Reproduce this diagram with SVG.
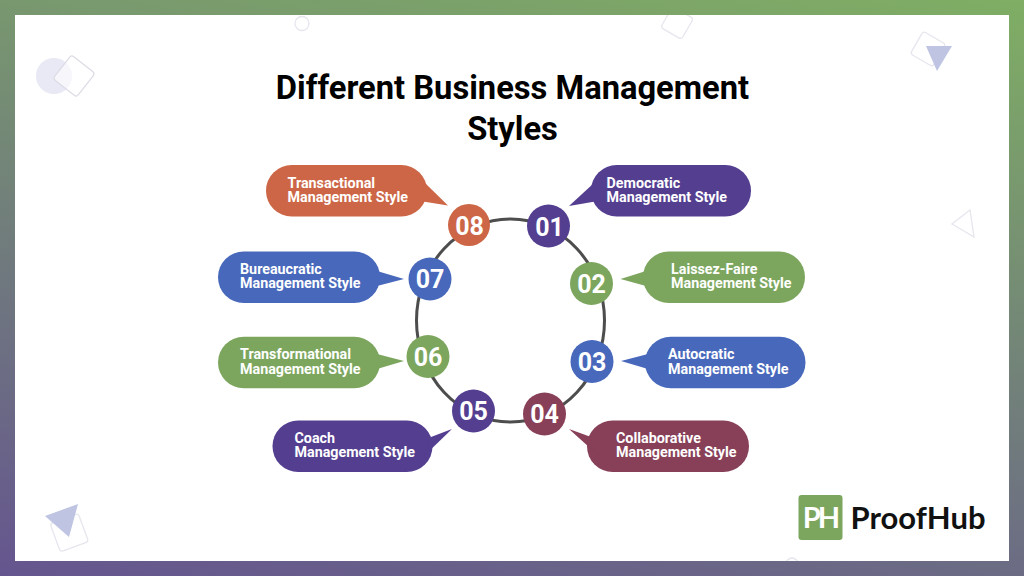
<svg xmlns="http://www.w3.org/2000/svg" width="1024" height="576" viewBox="0 0 1024 576">
<style>
.t{font-family:Roboto,"Liberation Sans",sans-serif;font-weight:700;font-size:14.3px;fill:#fff}
.n{font-family:Roboto,"Liberation Sans",sans-serif;font-weight:700;font-size:25px;fill:#fff;text-anchor:middle}
.h{font-family:Roboto,"Liberation Sans",sans-serif;font-weight:700;font-size:32.700px;fill:#000;text-anchor:middle}
.o{fill:#cc6646}.b{fill:#4868bb}.g{fill:#7ca65e}.p{fill:#533e90}.m{fill:#883f58}
.d{fill:none;stroke:#e6e6ee;stroke-width:1.3}
.s{fill:#bec4e2}
</style>
<defs>
<linearGradient id="bg" gradientUnits="userSpaceOnUse" x1="0" y1="576" x2="139" y2="-166">
<stop offset="0" stop-color="#65558f"/><stop offset="1" stop-color="#7fae64"/>
</linearGradient>
<clipPath id="frame"><rect x="15" y="15" width="994" height="546"/></clipPath>
</defs>
<rect width="1024" height="576" fill="url(#bg)"/>
<rect x="15" y="15" width="994" height="546" fill="#fff"/>
<g id="decor" clip-path="url(#frame)">
<circle cx="302" cy="23.500" r="7" class="d"/>
<circle cx="54" cy="76" r="18" fill="#e8e9f4"/>
<rect x="-15" y="-15" width="30" height="30" rx="3" transform="translate(74 76) rotate(38)" fill="#fff" fill-opacity=".6" stroke="#dcdce6" stroke-width="1.2"/>
<rect x="-12" y="-12" width="24" height="24" rx="3" transform="translate(677 23) rotate(30)" class="d"/>
<rect x="-13" y="-13" width="26" height="26" rx="3" transform="translate(928 49) rotate(30)" class="d"/>
<polygon points="926,46 952,46 937,71" class="s"/>
<polygon points="970,210 952,224 974,237" class="d"/>
<rect x="-14" y="-14" width="30" height="30" rx="3" transform="translate(68 532) rotate(-20)" class="d"/>
<polygon points="45,516 78,504 69,537" class="s"/>
<circle cx="792" cy="564" r="6" class="d"/>
</g>
<text class="h" x="512.500" y="99">Different Business Management</text>
<text class="h" x="512.500" y="140">Styles</text>
<g id="connectors"><ellipse cx="510.500" cy="320.500" rx="94" ry="101.500" fill="none" stroke="#4d4d4d" stroke-width="3"/></g>
<g id="node-01"><rect class="p" x="591" y="165" width="160" height="51.500" rx="25.700"/><polygon class="p" points="569,206 594,183 598,201"/><circle class="p" cx="548.500" cy="226" r="21.500"/><text class="n" x="549.500" y="235.500">01</text><text class="t" x="606.500" y="187.500">Democratic</text><text class="t" x="606.500" y="202">Management Style</text></g>
<g id="node-02"><rect class="g" x="643" y="251.500" width="162" height="51.500" rx="25.700"/><polygon class="g" points="620.500,279 646,271 646,286"/><circle class="g" cx="591.500" cy="283.500" r="21.500"/><text class="n" x="591.500" y="292.500">02</text><text class="t" x="671" y="273.500">Laissez-Faire</text><text class="t" x="671" y="288">Management Style</text></g>
<g id="node-03"><rect class="b" x="645" y="336.700" width="160.500" height="51.500" rx="25.700"/><polygon class="b" points="621,361 648,354 648,369"/><circle class="b" cx="592" cy="361.500" r="21.500"/><text class="n" x="592" y="370.500">03</text><text class="t" x="668" y="359">Autocratic</text><text class="t" x="668" y="373.500">Management Style</text></g>
<g id="node-04"><rect class="m" x="587" y="420.500" width="162" height="51.500" rx="25.700"/><polygon class="m" points="569,429 591,437 600,457"/><circle class="m" cx="544.500" cy="414" r="21.500"/><text class="n" x="544.500" y="423">04</text><text class="t" x="616" y="443">Collaborative</text><text class="t" x="616" y="457">Management Style</text></g>
<g id="node-05"><rect class="p" x="272.500" y="420.500" width="160" height="51.500" rx="25.700"/><polygon class="p" points="452,429 431,437 423,457"/><circle class="p" cx="473.500" cy="411" r="21.500"/><text class="n" x="473.500" y="420">05</text><text class="t" x="294.500" y="443">Coach</text><text class="t" x="294.500" y="457">Management Style</text></g>
<g id="node-06"><rect class="g" x="218" y="336.700" width="162" height="51.500" rx="25.700"/><polygon class="g" points="404,361 377,354 377,369"/><circle class="g" cx="428" cy="356.500" r="21.500"/><text class="n" x="428" y="365.500">06</text><text class="t" x="240" y="359">Transformational</text><text class="t" x="240" y="373.500">Management Style</text></g>
<g id="node-07"><rect class="b" x="218" y="251.500" width="162" height="51.500" rx="25.700"/><polygon class="b" points="404,279 377,271 377,286"/><circle class="b" cx="430" cy="279" r="21.500"/><text class="n" x="430" y="288">07</text><text class="t" x="240" y="273.500">Bureaucratic</text><text class="t" x="240" y="288">Management Style</text></g>
<g id="node-08"><rect class="o" x="266" y="165" width="161" height="51.500" rx="25.700"/><polygon class="o" points="448,205.500 424,182 420,201"/><circle class="o" cx="469" cy="225" r="21"/><text class="n" x="469.500" y="234.500">08</text><text class="t" x="287.500" y="187.500">Transactional</text><text class="t" x="287.500" y="202">Management Style</text></g>
<g id="logo"><rect x="798.500" y="495" width="44" height="45" rx="3" class="g"/><text x="820" y="528" style="font-family:Lato,'Liberation Sans',sans-serif;font-weight:700;font-size:29px;fill:#fff;text-anchor:middle;letter-spacing:-3px">PH</text><text x="850.500" y="529" style="font-family:Lato,'Liberation Sans',sans-serif;font-weight:700;font-size:31px;fill:#111">ProofHub</text></g>
</svg>
